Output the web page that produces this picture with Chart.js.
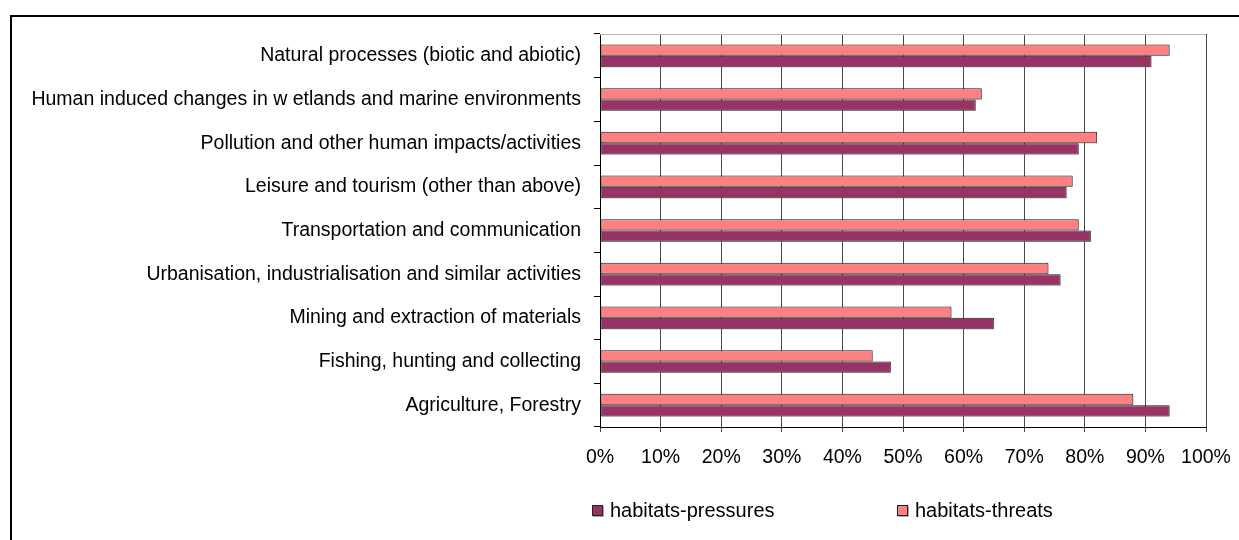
<!DOCTYPE html>
<html>
<head>
<meta charset="utf-8">
<script src="https://cdn.jsdelivr.net/npm/chart.js@4.4.1/dist/chart.umd.min.js"></script>
<style>
  body { margin: 0; background: #fff; width: 1239px; height: 540px; overflow: hidden; position: relative; font-family: "Liberation Sans", Arial, sans-serif; }
  #frame { position: absolute; left: 10px; top: 15px; width: 1400px; height: 700px; border: 2px solid #000; }
  #myChart { position: absolute; left: 0; top: 0; }
  .item { position: absolute; top: 499px; font-size: 20px; color: #000; white-space: nowrap; }
  .box { display: inline-block; width: 9px; height: 9px; border: 1px solid #222; margin-right: 7px; vertical-align: 1px; box-shadow: 1px 1px 0 #aaa; }
</style>
</head>
<body>
<div id="frame"></div>
<canvas id="myChart" width="1239" height="540"></canvas>
<div class="item" style="left:592px"><span class="box" id="boxP"></span>habitats-pressures</div>
<div class="item" style="left:897px"><span class="box" id="boxT"></span>habitats-threats</div>
<script>
const categories = [
  'Natural processes (biotic and abiotic)',
  'Human induced changes in w etlands and marine environments',
  'Pollution and other human impacts/activities',
  'Leisure and tourism (other than above)',
  'Transportation and communication',
  'Urbanisation, industrialisation and similar activities',
  'Mining and extraction of materials',
  'Fishing, hunting and collecting',
  'Agriculture, Forestry'
];
const threats = [94, 63, 82, 78, 79, 74, 58, 45, 88];
const pressures = [91, 62, 79, 77, 81, 76, 65, 48, 94];
const pressuresColor = '#993366';
const threatsColor = '#ff8080';

document.getElementById('boxP').style.background = pressuresColor;
document.getElementById('boxT').style.background = threatsColor;

Chart.defaults.color = 'black';
Chart.defaults.font.family = '"Liberation Sans", Arial, sans-serif';
Chart.defaults.font.size = 19.5;

// light top edge of the plot area, and the grey drop shadow under the bars
const plotExtras = {
  id: 'plotExtras',
  beforeDatasetsDraw(chart) {
    const a = chart.chartArea, c = chart.ctx;
    c.save();
    c.strokeStyle = '#b8b8b8';
    c.lineWidth = 1;
    c.beginPath();
    c.moveTo(a.left, a.top + 0.5);
    c.lineTo(a.right, a.top + 0.5);
    c.stroke();
    c.restore();
    c.save();
    c.shadowColor = 'rgba(120,120,120,0.55)';
    c.shadowOffsetX = 2;
    c.shadowOffsetY = 2;
    c.shadowBlur = 0;
  },
  afterDatasetsDraw(chart) {
    chart.ctx.restore();
  }
};

const ctx = document.getElementById('myChart');

new Chart(ctx, {
  type: 'bar',
  data: {
    labels: categories,
    datasets: [
      { label: 'habitats-threats', data: threats, backgroundColor: threatsColor, borderColor: '#1a1a1a', borderWidth: 1, borderSkipped: false },
      { label: 'habitats-pressures', data: pressures, backgroundColor: pressuresColor, borderColor: '#1a1a1a', borderWidth: 1, borderSkipped: false }
    ]
  },
  options: {
    indexAxis: 'y',
    responsive: false,
    animation: false,
    categoryPercentage: 0.52,
    barPercentage: 1,
    layout: { padding: { top: 34, right: 33, bottom: 68, left: 0 } },
    scales: {
      x: {
        min: 0,
        max: 100,
        ticks: { stepSize: 10, padding: 14, callback: v => v + '%' },
        grid: { color: '#4a4a4a', tickLength: 5 },
        border: { color: '#000' },
        afterFit: s => { s.height = 45; s.paddingLeft = 0; s.paddingRight = 0; }
      },
      y: {
        ticks: { padding: 13 },
        grid: { drawOnChartArea: false, color: '#000', tickLength: 6 },
        border: { color: '#000' },
        afterFit: s => { s.width = 600; }
      }
    },
    plugins: {
      legend: false,
      tooltip: { enabled: false }
    }
  },
  plugins: [plotExtras]
});
</script>
</body>
</html>
